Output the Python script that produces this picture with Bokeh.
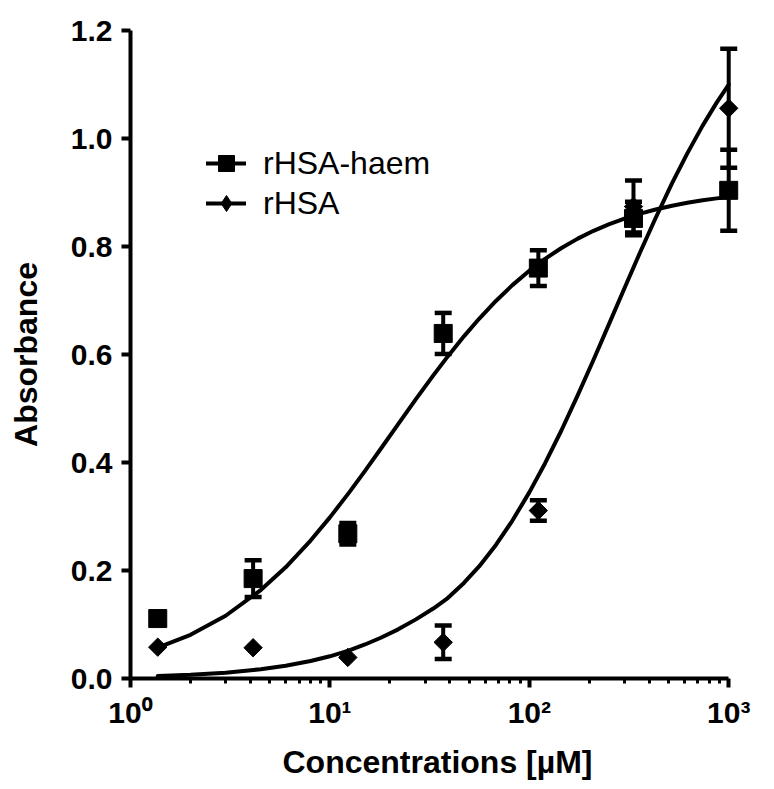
import numpy as np
from bokeh.plotting import figure
from bokeh.models import (Range1d, FixedTicker, Whisker, TeeHead, ColumnDataSource,
                          Legend, LegendItem, NumeralTickFormatter)
from bokeh.embed import file_html
from bokeh.resources import INLINE

# ---------------- data ----------------
conc = [1.37, 4.12, 12.3, 37.0, 111.0, 333.0, 1000.0]

haem_mean = [0.111, 0.185, 0.268, 0.639, 0.760, 0.852, 0.904]
haem_err = [0.008, 0.034, 0.020, 0.038, 0.033, 0.031, 0.075]

rhsa_mean = [0.058, 0.057, 0.039, 0.067, 0.311, 0.874, 1.056]
rhsa_err = [0.0, 0.0, 0.0, 0.031, 0.019, 0.048, 0.110]

fit_x = [1.37, 2, 3, 4.5, 6, 8, 10, 12.5, 15, 18, 22, 27, 33, 39, 47, 56, 68, 82,
         100, 120, 145, 175, 210, 250, 300, 360, 430, 520, 620, 740, 870, 1000]
haem_fit_y = [0.0570, 0.0809, 0.1162, 0.1638, 0.2060, 0.2554, 0.2984, 0.3447,
              0.3845, 0.4255, 0.4711, 0.5173, 0.5613, 0.5965, 0.6336, 0.6661,
              0.6992, 0.7280, 0.7552, 0.7772, 0.7973, 0.8146, 0.8291, 0.8410,
              0.8518, 0.8610, 0.8686, 0.8755, 0.8809, 0.8855, 0.8891, 0.8917]
rhsa_fit_y = [0.0045, 0.0068, 0.0108, 0.0172, 0.0236, 0.0323, 0.0411, 0.0520,
              0.0630, 0.0755, 0.0910, 0.1095, 0.1295, 0.1490, 0.1770, 0.2075,
              0.2473, 0.2916, 0.3447, 0.3987, 0.4597, 0.5246, 0.5903, 0.6549,
              0.7228, 0.7898, 0.8528, 0.9172, 0.9725, 1.0239, 1.0664, 1.0997]

series_names = ["rHSA-haem", "rHSA"]

x_ticks = [1, 10, 100, 1000]
x_tick_labels = ["10\u2070", "10\u00b9", "10\u00b2", "10\u00b3"]
x_minor_ticks = [2, 3, 4, 5, 6, 7, 8, 9, 20, 30, 40, 50, 60, 70, 80, 90,
                 200, 300, 400, 500, 600, 700, 800, 900]
y_ticks = [0.0, 0.2, 0.4, 0.6, 0.8, 1.0, 1.2]

x_label = "Concentrations [\u00b5M]"
y_label = "Absorbance"

# ---------------- figure ----------------
FONT = "Liberation Sans"

p = figure(width=774, height=789, x_axis_type="log",
           x_range=Range1d(1, 1200), y_range=Range1d(0, 1.2),
           output_backend="svg", toolbar_location=None,
           min_border_left=130, min_border_right=30,
           min_border_top=30, min_border_bottom=111)
p.outline_line_color = None
p.xgrid.visible = False
p.ygrid.visible = False
p.background_fill_color = "white"
p.border_fill_color = "white"

for ax in (p.xaxis[0], p.yaxis[0]):
    ax.axis_line_width = 4
    ax.axis_line_color = "black"
    ax.major_tick_line_width = 4
    ax.major_tick_line_color = "black"
    ax.major_tick_in = 0
    ax.major_tick_out = 9
    ax.major_label_text_font = FONT
    ax.major_label_text_font_style = "bold"
    ax.major_label_text_font_size = "30px"
    ax.major_label_text_color = "black"
    ax.axis_label_text_font = FONT
    ax.axis_label_text_font_style = "bold"
    ax.axis_label_text_font_size = "32px"
    ax.axis_label_text_color = "black"

xa = p.xaxis[0]
xa.ticker = FixedTicker(ticks=x_ticks, minor_ticks=x_minor_ticks)
xa.bounds = (x_ticks[0], x_ticks[-1])
xa.major_label_overrides = {t: lab for t, lab in zip(x_ticks, x_tick_labels)}
xa.minor_tick_line_width = 3
xa.minor_tick_line_color = "black"
xa.minor_tick_in = 0
xa.minor_tick_out = 5
xa.major_label_standoff = 8
xa.axis_label = x_label
xa.axis_label_standoff = 12

ya = p.yaxis[0]
ya.ticker = FixedTicker(ticks=y_ticks)
ya.formatter = NumeralTickFormatter(format="0.0")
ya.minor_tick_line_color = None
ya.major_label_standoff = 9
ya.axis_label = y_label
ya.axis_label_standoff = 24

# fitted curves
l_haem = p.line(fit_x, haem_fit_y, line_width=4, line_color="black",
                line_join="round", line_cap="round")
l_rhsa = p.line(fit_x, rhsa_fit_y, line_width=4, line_color="black",
                line_join="round", line_cap="round")

# error bars
def add_errors(means, errs):
    xs = [c for c, e in zip(conc, errs) if e > 0]
    up = [m + e for m, e in zip(means, errs) if e > 0]
    lo = [m - e for m, e in zip(means, errs) if e > 0]
    src = ColumnDataSource(dict(x=xs, upper=up, lower=lo))
    w = Whisker(base="x", upper="upper", lower="lower", source=src,
                dimension="height", line_width=4, line_color="black",
                upper_head=TeeHead(size=17, line_width=4.5, line_color="black"),
                lower_head=TeeHead(size=17, line_width=4.5, line_color="black"))
    p.add_layout(w)

add_errors(haem_mean, haem_err)
add_errors(rhsa_mean, rhsa_err)

# markers
s_haem = p.scatter(conc, haem_mean, marker="square", size=18,
                   fill_color="black", line_color="black")
s_rhsa = p.scatter(conc, rhsa_mean, marker="square", angle=np.pi / 4, size=13,
                   fill_color="black", line_color="black")
# diamond used only for the legend symbol
s_rhsa_leg = p.scatter(conc, rhsa_mean, marker="diamond", size=18,
                       fill_color="black", line_color="black", visible=False)

legend = Legend(items=[LegendItem(label=series_names[0], renderers=[l_haem, s_haem]),
                       LegendItem(label=series_names[1], renderers=[l_rhsa, s_rhsa_leg])],
                location=(76, 455), padding=0, margin=0, spacing=0,
                glyph_width=40, glyph_height=40, label_height=40,
                label_standoff=17,
                label_text_font=FONT, label_text_font_size="32px",
                label_text_color="black",
                border_line_color=None, background_fill_alpha=0)
p.add_layout(legend)

open("out.html", "w").write(file_html(p, INLINE))
